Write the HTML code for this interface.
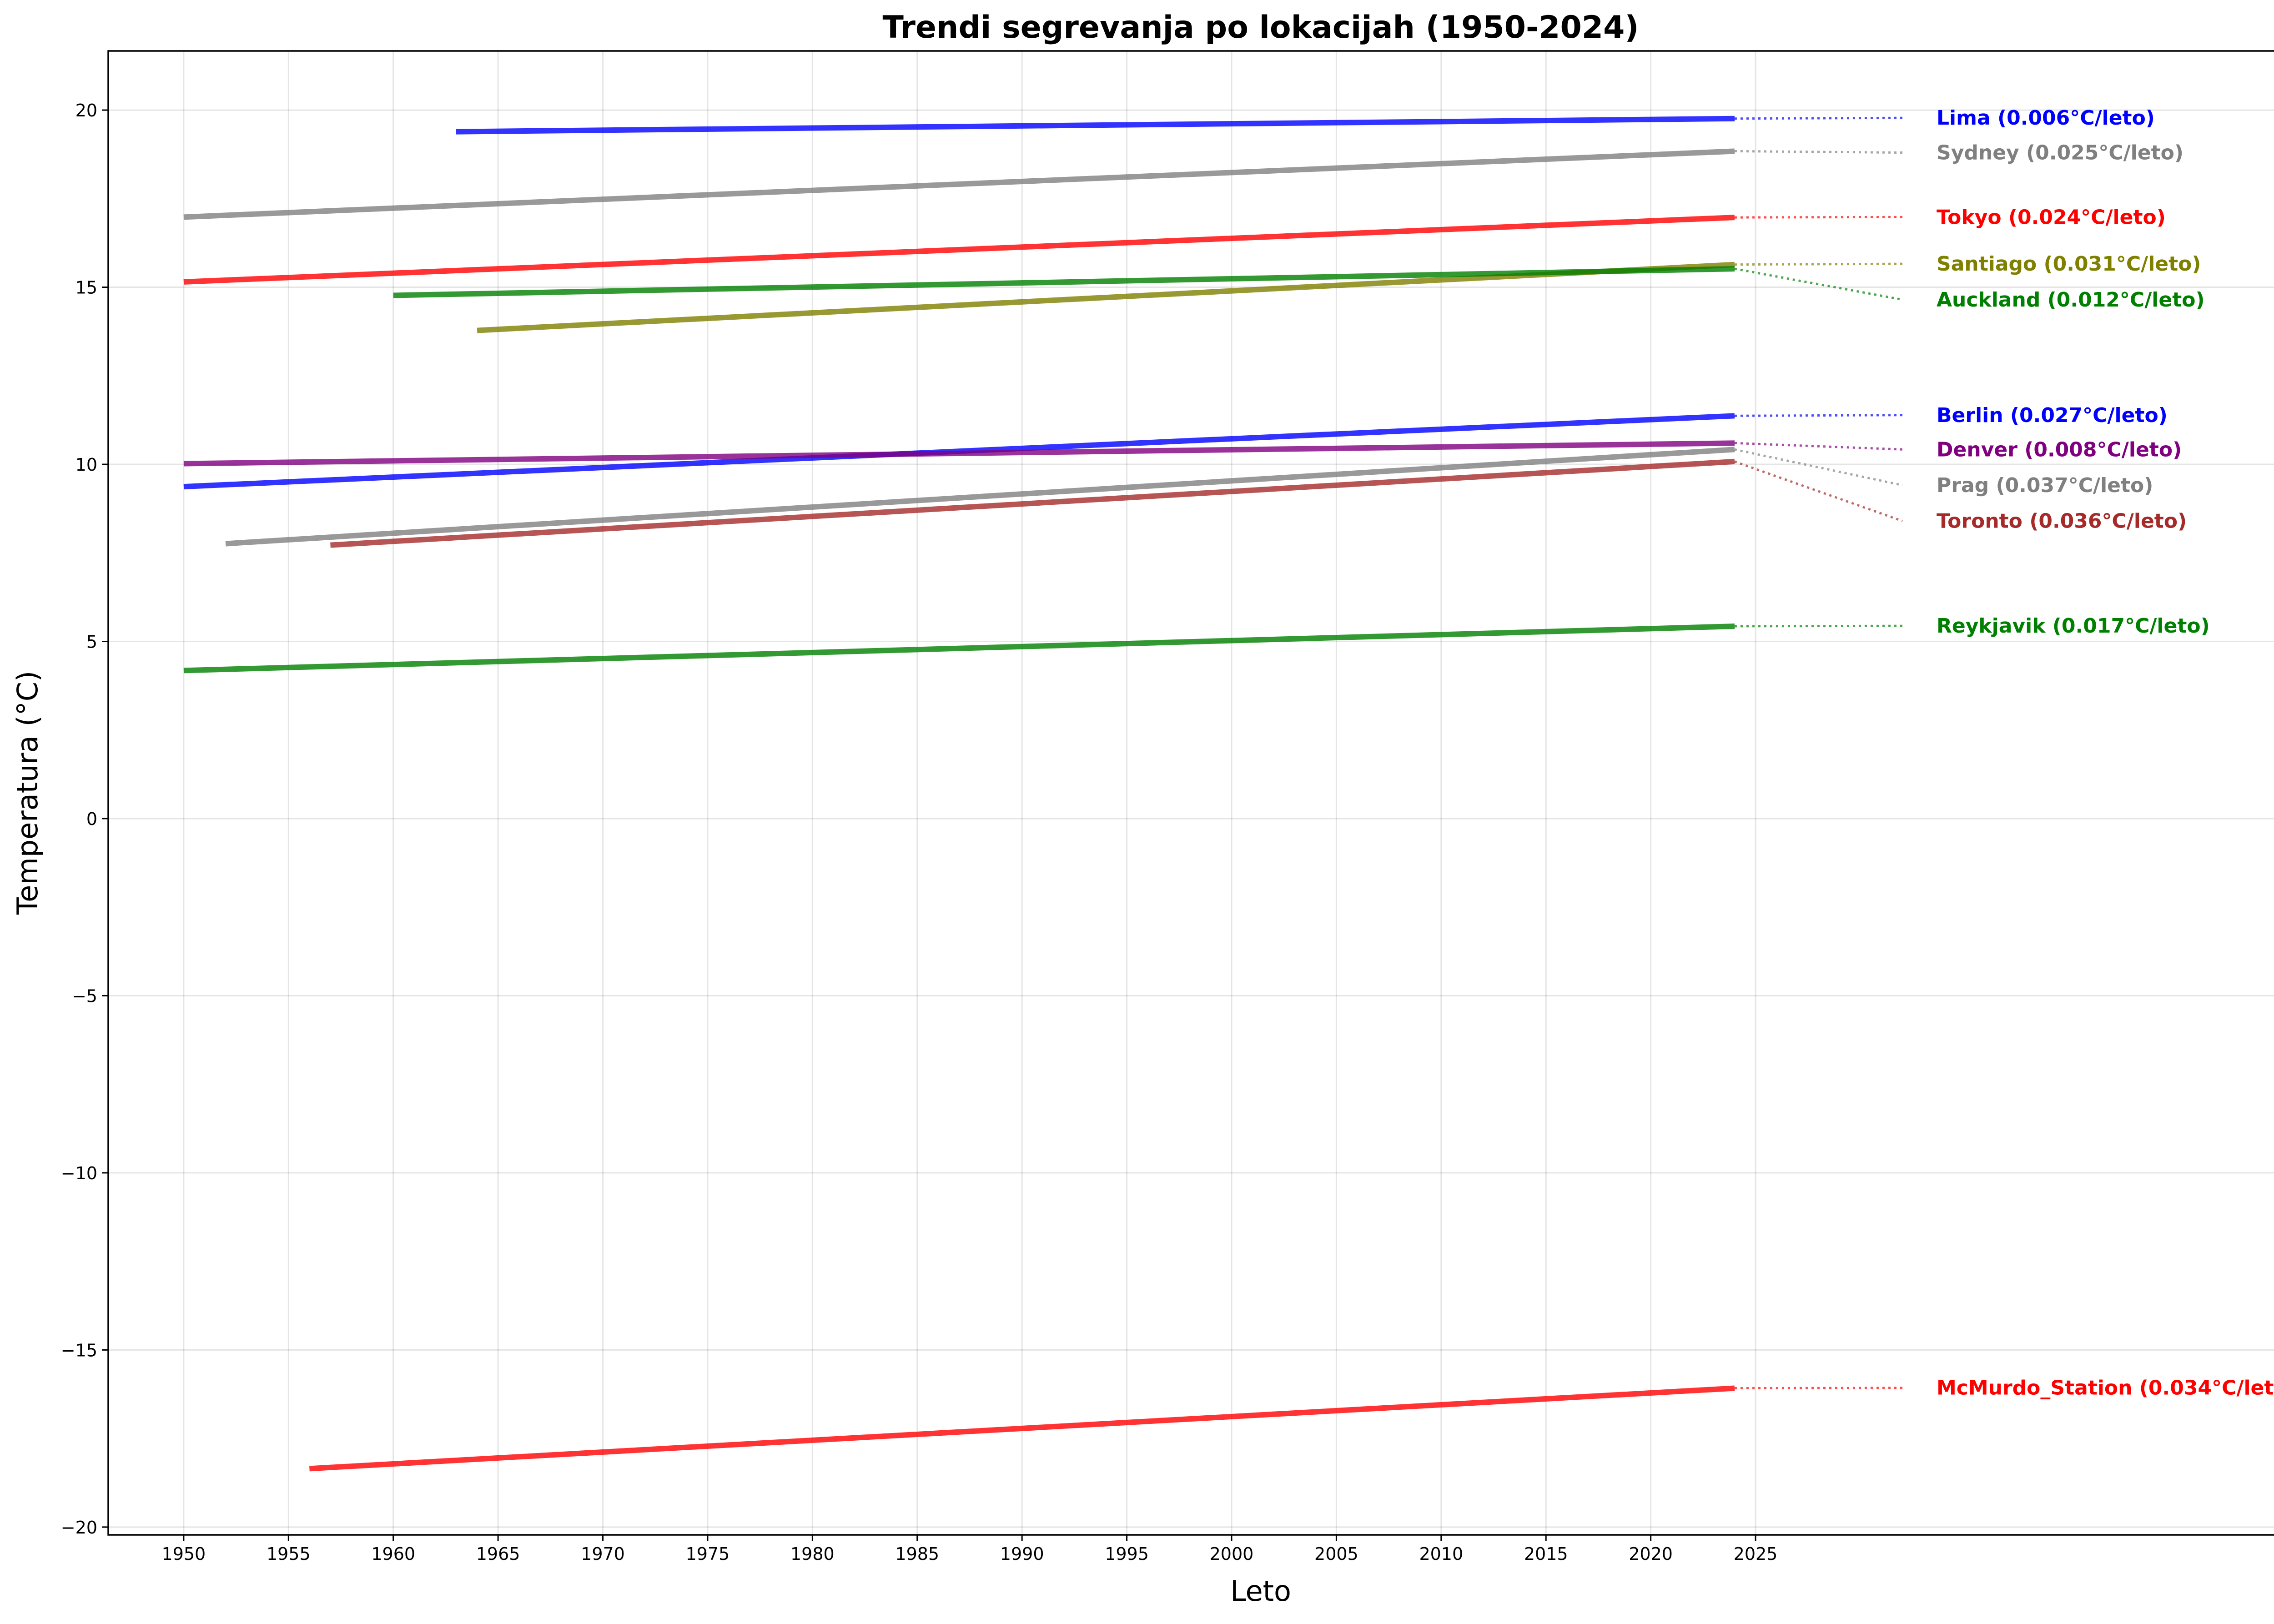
<!DOCTYPE html>
<html><head><meta charset="utf-8">
<style>
html,body{margin:0;padding:0;background:#fff;overflow:hidden;width:5341px;height:3571px;}
svg{display:block;font-family:"DejaVu Sans","Liberation Sans",sans-serif;}
</style></head>
<body>
<svg id="chart" width="5341" height="3571" viewBox="0 0 5341 3571" xmlns="http://www.w3.org/2000/svg">
<rect width="5341" height="3571" fill="#fff"/>
<text x="2772" y="83" text-anchor="middle" font-size="68" font-weight="bold">Trendi segrevanja po lokacijah  (1950-2024)</text>
<g id="grid"></g>
<g id="series"></g>
<g id="labels"></g>
<rect x="238" y="112" width="5069" height="3263" fill="none" stroke="#000" stroke-width="3.5"/>
<g id="ticks"></g>
<text x="2772" y="3520" text-anchor="middle" font-size="62">Leto</text>
<text transform="translate(82,1743) rotate(-90)" text-anchor="middle" font-size="62">Temperatura (°C)</text>
</svg>
<script>
const cities = ["Lima","Sydney","Tokyo","Santiago","Auckland","Berlin","Denver","Prag","Toronto","Reykjavik","McMurdo_Station"];
const startYears = [1963,1950,1950,1964,1960,1950,1950,1952,1957,1950,1956];
const endYears = [2024,2024,2024,2024,2024,2024,2024,2024,2024,2024,2024];
const startTemps = [19.39,16.98,15.15,13.78,14.77,9.37,10.02,7.76,7.72,4.18,-18.35];
const endTemps = [19.76,18.84,16.97,15.64,15.52,11.37,10.6,10.42,10.08,5.43,-16.08];
const rates = ["0.006","0.025","0.024","0.031","0.012","0.027","0.008","0.037","0.036","0.017","0.034"];
const labelTemps = [19.78,18.8,16.98,15.66,14.65,11.39,10.42,9.41,8.4,5.44,-16.07];
const lineColors = ["#0000ff","#808080","#ff0000","#808000","#008000","#0000ff","#800080","#808080","#a52a2a","#008000","#ff0000"];
const xTicks = [1950,1955,1960,1965,1970,1975,1980,1985,1990,1995,2000,2005,2010,2015,2020,2025];
const yTicks = [-20,-15,-10,-5,0,5,10,15,20];

const X0=238,X1=5307,Y0=112,Y1=3375;
const xMin=1946.4,xMax=2056.4,yMin=-20.22,yMax=21.67;
const xs=v=>X0+(v-xMin)/(xMax-xMin)*(X1-X0);
const ys=v=>Y1-(v-yMin)/(yMax-yMin)*(Y1-Y0);
const NS="http://www.w3.org/2000/svg";
function mk(tag,attrs,parent){const e=document.createElementNS(NS,tag);for(const k in attrs)e.setAttribute(k,attrs[k]);parent.appendChild(e);return e;}
const grid=document.getElementById('grid'),ser=document.getElementById('series'),lab=document.getElementById('labels'),tk=document.getElementById('ticks');

xTicks.forEach(t=>{
  const x=xs(t);
  const g=mk('line',{x1:x,x2:x,y1:Y0,y2:Y1,stroke:'#000','stroke-opacity':0.1,'stroke-width':3},grid);
  
  
  const m=mk('line',{x1:x,x2:x,y1:Y1,y2:Y1+14,stroke:'#000','stroke-width':3},tk);
  
  
  const l=mk('text',{x:x,y:Y1+55,'text-anchor':'middle','font-size':38},tk);
  l.textContent=t;
  
  
});
yTicks.forEach(t=>{
  const y=ys(t);
  const g=mk('line',{x1:X0,x2:X1,y1:y,y2:y,stroke:'#000','stroke-opacity':0.1,'stroke-width':3},grid);
  
  
  const m=mk('line',{x1:X0-14,x2:X0,y1:y,y2:y,stroke:'#000','stroke-width':3},tk);
  
  
  const l=mk('text',{x:X0-24,y:y+14,'text-anchor':'end','font-size':38},tk);
  l.textContent=(t<0?'\u2212'+(-t):t);
  
  
});
const labelX=4258, dotEndX=4183;
cities.forEach((c,i)=>{
  const ln=mk('line',{x1:xs(startYears[i]),y1:ys(startTemps[i]),x2:xs(endYears[i]),y2:ys(endTemps[i]),stroke:lineColors[i],'stroke-opacity':0.8,'stroke-width':12},ser);
  
  
  const d=mk('line',{x1:xs(endYears[i]),y1:ys(endTemps[i]),x2:dotEndX,y2:ys(labelTemps[i]),stroke:lineColors[i],'stroke-opacity':0.7,'stroke-width':5,'stroke-dasharray':'5 8'},lab);
  
  
  const t=mk('text',{x:labelX,y:ys(labelTemps[i])+15,'font-size':44,'font-weight':'bold',fill:lineColors[i]},lab);
  t.textContent=c+' ('+rates[i]+'°C/leto)';
  
  
});
</script>
</body></html>
